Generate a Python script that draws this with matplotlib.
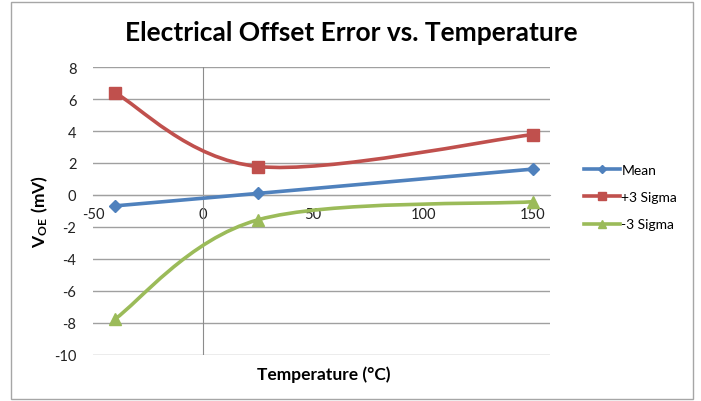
import matplotlib
matplotlib.use("Agg")
import matplotlib.pyplot as plt
from matplotlib.path import Path
from matplotlib.patches import PathPatch, Rectangle
from matplotlib.lines import Line2D

plt.rcParams['font.family'] = ['Lato', 'DejaVu Sans']
plt.rcParams['mathtext.fontset'] = 'custom'
plt.rcParams['mathtext.rm'] = 'Lato'
plt.rcParams['mathtext.bf'] = 'Lato:bold'
plt.rcParams['axes.unicode_minus'] = False

temps = [-40, 25, 150]
mean = [-0.68, 0.1, 1.62]
plus3 = [6.38, 1.78, 3.78]
minus3 = [-7.75, -1.55, -0.42]

series = [
    ("Mean", mean, "#4F81BD", "D", 6),
    ("+3 Sigma", plus3, "#C0504D", "s", 8),
    ("-3 Sigma", minus3, "#9BBB59", "^", 8),
]


def smooth_path(xs, ys):
    # Excel style smoothed line: cubic bezier, catmull-rom tangents
    pts = list(zip(xs, ys))
    n = len(pts)
    verts = [pts[0]]
    codes = [Path.MOVETO]
    for i in range(n - 1):
        p0 = pts[max(i - 1, 0)]
        p1 = pts[i]
        p2 = pts[i + 1]
        p3 = pts[min(i + 2, n - 1)]
        c1 = (p1[0] + (p2[0] - p0[0]) / 6, p1[1] + (p2[1] - p0[1]) / 6)
        c2 = (p2[0] - (p3[0] - p1[0]) / 6, p2[1] - (p3[1] - p1[1]) / 6)
        verts += [c1, c2, p2]
        codes += [Path.CURVE4] * 3
    return Path(verts, codes)


fig = plt.figure(figsize=(7.01, 4.02), dpi=100)
fig.patches.append(Rectangle((11 / 701, 2 / 402), 682 / 701, 397 / 402,
                             transform=fig.transFigure, fill=False,
                             edgecolor="#A6A6A6", linewidth=1))
ax = fig.add_axes([93 / 701, 1 - 356 / 402, 457 / 701, 288 / 402])

# Excel leaves a little room after the last category
ax.set_xlim(-50, 157.7)
ax.set_ylim(-10, 8)
ax.set_xticks([-50, 0, 50, 100, 150])
ax.set_yticks(range(-10, 9, 2))
ax.grid(axis='y', color="#A0A0A0", linewidth=1)
ax.set_axisbelow(True)
for s in ['top', 'right', 'left']:
    ax.spines[s].set_visible(False)
ax.spines['bottom'].set_position(('data', 0))
ax.spines['bottom'].set_color("#A0A0A0")
ax.axvline(0, color="#8C8C8C", linewidth=0.8, zorder=1)
ax.tick_params(axis='both', length=0, labelsize=10.5, colors="#222222")
ax.tick_params(axis='x', pad=9)
ax.tick_params(axis='y', pad=12)

handles = []
for name, vals, color, mk, ms in series:
    ax.add_patch(PathPatch(smooth_path(temps, vals), facecolor='none',
                           edgecolor=color, linewidth=2.6, zorder=3,
                           capstyle='round'))
    ax.plot(temps, vals, linestyle='none', marker=mk, markersize=ms,
            color=color, zorder=4)
    handles.append(Line2D([], [], color=color, linewidth=2.6, marker=mk,
                          markersize=ms - 2, label=name))

fig.text(351 / 701, 1 - 33 / 402, "Electrical Offset Error vs. Temperature",
         fontsize=19, fontweight='bold', ha='center', va='center')
ax.set_xlabel("Temperature (°C)", fontsize=12.5, fontweight='bold')
ax.xaxis.set_label_coords(0.505, -0.035)
ax.set_ylabel(r"$\mathbf{V_{OE}\ (mV)}$", fontsize=12.5)
ax.yaxis.set_label_coords(-0.094, 0.5)

fig.legend(handles=handles, loc='center left', bbox_to_anchor=(0.815, 0.507),
           frameon=False, fontsize=10, handlelength=2.6, handletextpad=0.1,
           labelspacing=1.1)

fig.savefig("out.png", dpi=100)
